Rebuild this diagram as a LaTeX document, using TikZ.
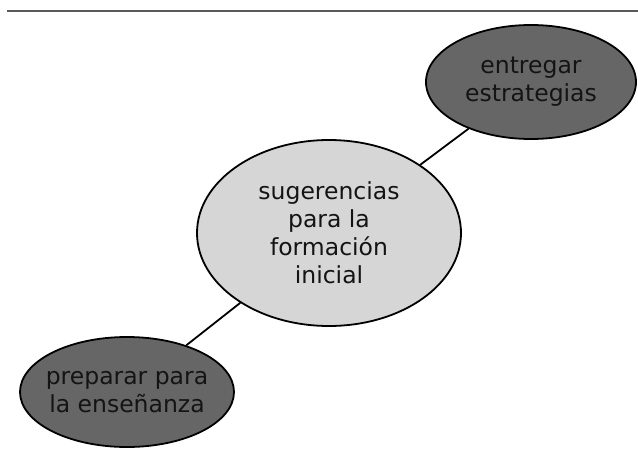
\documentclass[tikz,border=0pt]{standalone}
\usepackage{fontspec}
\setmainfont{DejaVu Sans}
\usetikzlibrary{shapes.geometric}
\definecolor{darkfill}{RGB}{102,102,102}
\definecolor{lightfill}{RGB}{214,214,214}
\definecolor{ink}{RGB}{20,20,20}
\tikzset{
  idea/.style={ellipse, draw=black, line width=1.8pt, inner sep=-10pt, align=center,
    text=ink, font=\fontsize{23.5}{28}\selectfont},
  link/.style={line width=1.8pt}
}

\begin{document}
\begin{tikzpicture}[x=1pt,y=-1pt]
\useasboundingbox (0,0) rectangle (638,452);
\draw[black!65, line width=2pt] (7,11) -- (638,11);
\node[idea, fill=lightfill, minimum width=264pt, minimum height=186pt] (sug) at (329,233) {sugerencias\\para la\\formación\\inicial};
\node[idea, fill=darkfill, minimum width=210pt, minimum height=114pt] (entr) at (531,82) {entregar\\estrategias};
\node[idea, fill=darkfill, minimum width=214pt, minimum height=110pt] (prep) at (127,392) {preparar para\\la enseñanza};
\draw[link] (sug) -- (entr);
\draw[link] (sug) -- (prep);
\end{tikzpicture}
\end{document}
